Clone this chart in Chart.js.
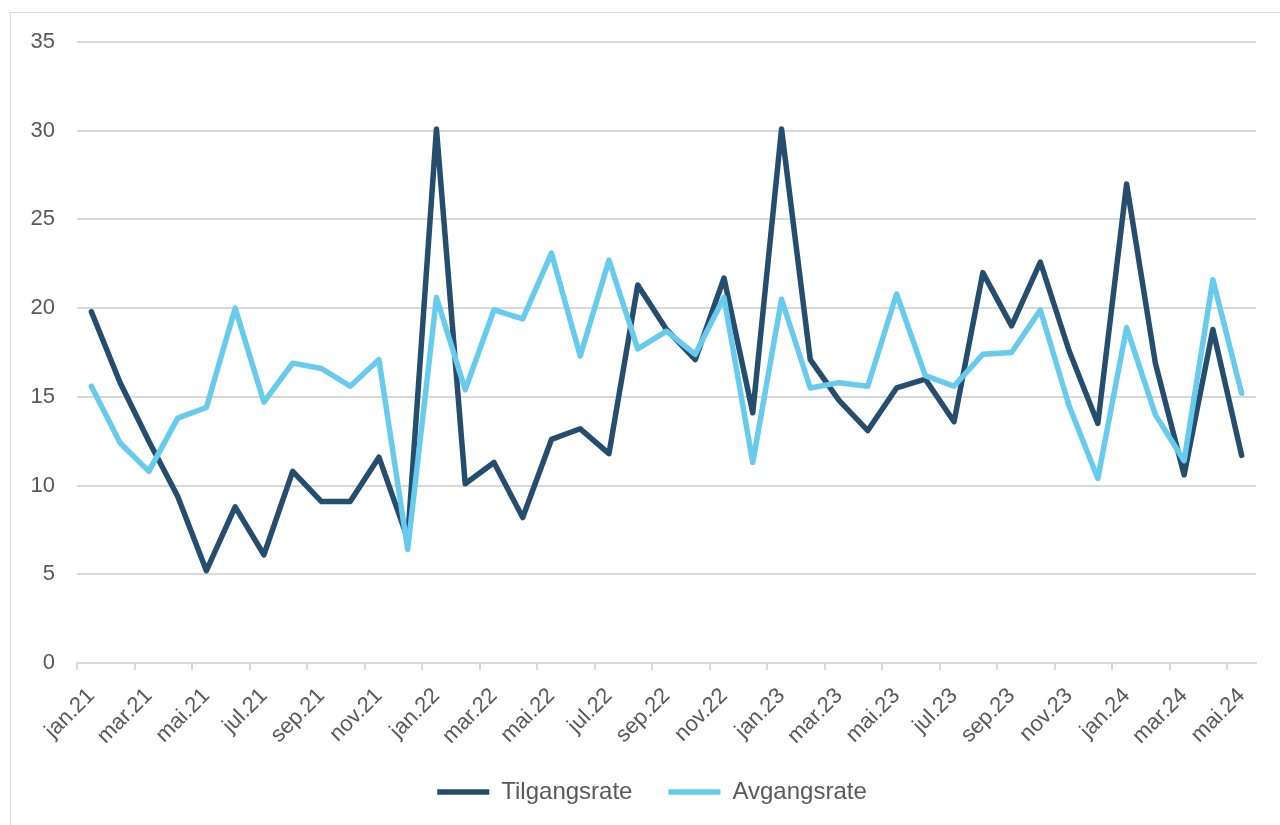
<!DOCTYPE html>
<html>
<head>
<meta charset="utf-8">
<script src="https://cdn.jsdelivr.net/npm/chart.js@4/dist/chart.umd.min.js"></script>
<style>
  html, body { margin: 0; padding: 0; background: #fff; overflow: hidden; }
  #wrap { position: relative; width: 1280px; height: 825px; overflow: hidden; }
  #frame { position: absolute; left: 10px; top: 12px; width: 1400px; height: 900px;
           border: 1.5px solid #d9d9d9; box-sizing: border-box; }
  #box { position: absolute; left: 0; top: 0; width: 1280px; height: 814px; }
</style>
</head>
<body>
<div id="wrap">
  <div id="frame"></div>
  <div id="box"><canvas id="chart"></canvas></div>
</div>
<script>
const labels = [
  'jan.21','feb.21','mar.21','apr.21','mai.21','jun.21','jul.21','aug.21','sep.21','okt.21','nov.21','des.21',
  'jan.22','feb.22','mar.22','apr.22','mai.22','jun.22','jul.22','aug.22','sep.22','okt.22','nov.22','des.22',
  'jan.23','feb.23','mar.23','apr.23','mai.23','jun.23','jul.23','aug.23','sep.23','okt.23','nov.23','des.23',
  'jan.24','feb.24','mar.24','apr.24','mai.24'
];

const tilgangsrate = [
  19.8, 15.8, 12.5, 9.4, 5.2, 8.8, 6.1, 10.8, 9.1, 9.1, 11.6, 7.0,
  30.1, 10.1, 11.3, 8.2, 12.6, 13.2, 11.8, 21.3, 18.8, 17.1, 21.7, 14.1,
  30.1, 17.1, 14.8, 13.1, 15.5, 16.0, 13.6, 22.0, 19.0, 22.6, 17.6, 13.5,
  27.0, 16.9, 10.6, 18.8, 11.7
];

const avgangsrate = [
  15.6, 12.4, 10.8, 13.8, 14.4, 20.0, 14.7, 16.9, 16.6, 15.6, 17.1, 6.4,
  20.6, 15.4, 19.9, 19.4, 23.1, 17.3, 22.7, 17.7, 18.7, 17.4, 20.6, 11.3,
  20.5, 15.5, 15.8, 15.6, 20.8, 16.2, 15.6, 17.4, 17.5, 19.9, 14.5, 10.4,
  18.9, 14.0, 11.4, 21.6, 15.2
];

const yTicks = [0, 5, 10, 15, 20, 25, 30, 35];

const textColor = '#595959';
const gridColor = '#d9d9d9';
const font = 'Liberation Sans, Arial, sans-serif';

new Chart(document.getElementById('chart'), {
  type: 'line',
  data: {
    labels,
    datasets: [
      { label: 'Tilgangsrate', data: tilgangsrate, borderColor: '#254d6e', backgroundColor: '#254d6e',
        borderWidth: 5.5, pointRadius: 0, tension: 0, borderCapStyle: 'round', borderJoinStyle: 'round', order: 1 },
      { label: 'Avgangsrate', data: avgangsrate, borderColor: '#66cbed', backgroundColor: '#66cbed',
        borderWidth: 5.5, pointRadius: 0, tension: 0, borderCapStyle: 'round', borderJoinStyle: 'round', order: 0 }
    ]
  },
  options: {
    responsive: true,
    maintainAspectRatio: false,
    animation: false,
    layout: { padding: { top: 42, right: 0, left: 24, bottom: 0 } },
    scales: {
      x: {
        offset: true,
        grid: {
          offset: true,
          drawOnChartArea: false,
          tickLength: 7,
          lineWidth: 2,
          color: c => (c.index % 2 === 0 ? gridColor : 'rgba(0,0,0,0)')
        },
        border: { display: true, color: gridColor, width: 2 },
        ticks: {
          autoSkip: false,
          minRotation: 45,
          maxRotation: 45,
          padding: 13,
          color: textColor,
          font: { family: font, size: 22 },
          callback: (v, i) => (i % 2 === 0 ? labels[i] : '')
        },
        afterFit: s => { s.height = 81; }
      },
      y: {
        min: 0,
        max: 35,
        afterBuildTicks: s => { s.ticks = yTicks.map(v => ({ value: v })); },
        grid: { color: gridColor, lineWidth: 2, drawTicks: false },
        border: { display: false },
        ticks: { padding: 22, color: textColor, font: { family: font, size: 22 } },
        afterFit: s => { s.width = 53; }
      },
      // empty spacer on the right so the chart area stops at 1256
      yRight: {
        position: 'right',
        grid: { display: false },
        border: { display: false },
        ticks: { display: false },
        afterFit: s => { s.width = 24; }
      }
    },
    plugins: {
      tooltip: { enabled: false },
      legend: {
        position: 'bottom',
        labels: {
          usePointStyle: true,
          pointStyle: 'line',
          pointStyleWidth: 52,
          padding: 36,
          color: textColor,
          font: { family: font, size: 24 },
          sort: (a, b) => a.datasetIndex - b.datasetIndex
        }
      }
    }
  }
});
</script>
</body>
</html>
